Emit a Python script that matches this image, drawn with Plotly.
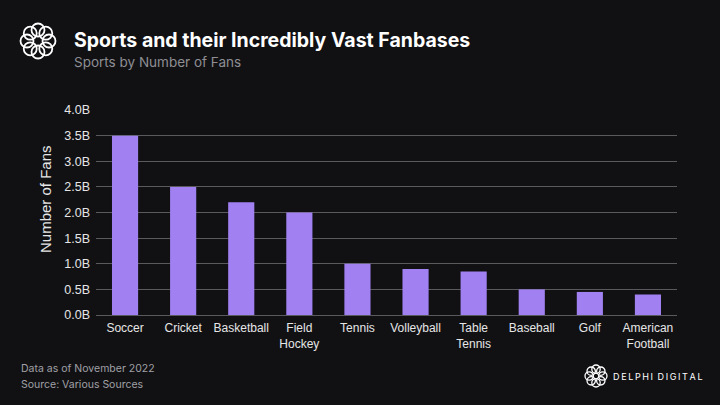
import math
import plotly.graph_objects as go

sports = ["Soccer", "Cricket", "Basketball", "Field<br>Hockey", "Tennis", "Volleyball",
          "Table<br>Tennis", "Baseball", "Golf", "American<br>Football"]
fans = [3.5e9, 2.5e9, 2.2e9, 2.0e9, 1.0e9, 0.9e9, 0.85e9, 0.5e9, 0.45e9, 0.4e9]
tick_vals = [0, 0.5e9, 1e9, 1.5e9, 2e9, 2.5e9, 3e9, 3.5e9, 4e9]
tick_text = ["0.0B", "0.5B", "1.0B", "1.5B", "2.0B", "2.5B", "3.0B", "3.5B", "4.0B"]

W, H = 720, 405
L, R, T, B = 96, 43, 110, 90
PW, PH = W - L - R, H - T - B
BG = "#111114"

fig = go.Figure(go.Bar(x=sports, y=fans, marker=dict(color="#a180f2", line=dict(width=0)),
                       hoverinfo="x+y"))

def px(x):
    return (x - L) / PW

def py(y):
    return 1 + (T - y) / PH

shapes = []
def logo(cx, cy, Rr, r, w):
    for k in range(8):
        a = 2 * math.pi * k / 8
        x = cx + Rr * math.cos(a)
        y = cy + Rr * math.sin(a)
        shapes.append(dict(type="circle", xref="paper", yref="paper",
                           xsizemode="pixel", ysizemode="pixel",
                           xanchor=0, yanchor=1,
                           x0=x - r - L, x1=x + r - L,
                           y0=T - (y + r), y1=T - (y - r),
                           line=dict(color="white", width=w)))
logo(38, 41, 11, 6.5, 1.8)
logo(596, 376, 6.8, 4.2, 1.3)

footer_font = dict(family="Inter", size=10.5, color="#a0a0a5")
fig.update_layout(
    width=W, height=H,
    paper_bgcolor=BG, plot_bgcolor=BG,
    margin=dict(l=L, r=R, t=T, b=B),
    bargap=0.55,
    showlegend=False,
    font=dict(family="Liberation Sans, Arial", color="#e6e6e6", size=12),
    xaxis=dict(showgrid=False, tickfont=dict(size=12, color="#e6e6e6"), ticks="",
               showline=False, fixedrange=True, ticklabelstandoff=4),
    yaxis=dict(range=[0, 4e9], tickvals=tick_vals, ticktext=tick_text,
               gridcolor="#5a5a5e", gridwidth=1, zeroline=True, zerolinecolor="#5a5a5e",
               zerolinewidth=1, showline=False, ticks="", ticklabelstandoff=5,
               tickfont=dict(size=12.5, color="#e6e6e6"), fixedrange=True),
    shapes=shapes,
    annotations=[
        dict(text="Number of Fans", xref="paper", yref="paper", textangle=-90,
             x=px(45), y=py(199), xanchor="center", yanchor="middle", showarrow=False,
             font=dict(family="Liberation Sans, Arial", size=15, color="#e6e6e6")),
        dict(text="<b>Sports and their Incredibly Vast Fanbases</b>", xref="paper", yref="paper",
             x=px(72), y=py(40), xanchor="left", yanchor="middle", showarrow=False,
             font=dict(family="Inter", size=19.5, color="white")),
        dict(text="Sports by Number of Fans", xref="paper", yref="paper",
             x=px(72), y=py(62), xanchor="left", yanchor="middle", showarrow=False,
             font=dict(family="Inter", size=13.5, color="#8e8e93")),
        dict(text="Data as of November 2022", xref="paper", yref="paper",
             x=px(19), y=py(368), xanchor="left", yanchor="middle", showarrow=False,
             font=footer_font),
        dict(text="Source: Various Sources", xref="paper", yref="paper",
             x=px(19), y=py(384), xanchor="left", yanchor="middle", showarrow=False,
             font=footer_font),
        dict(text="\u2009".join("DELPHI") + "\u2002" + "\u2009".join("DIGITAL"),
             xref="paper", yref="paper",
             x=px(611), y=py(376), xanchor="left", yanchor="middle", showarrow=False,
             font=dict(family="Inter", size=9, color="white")),
    ],
)

fig.write_html("out.html", post_script="document.body.style.margin='0';",
               config={"displayModeBar": False})
